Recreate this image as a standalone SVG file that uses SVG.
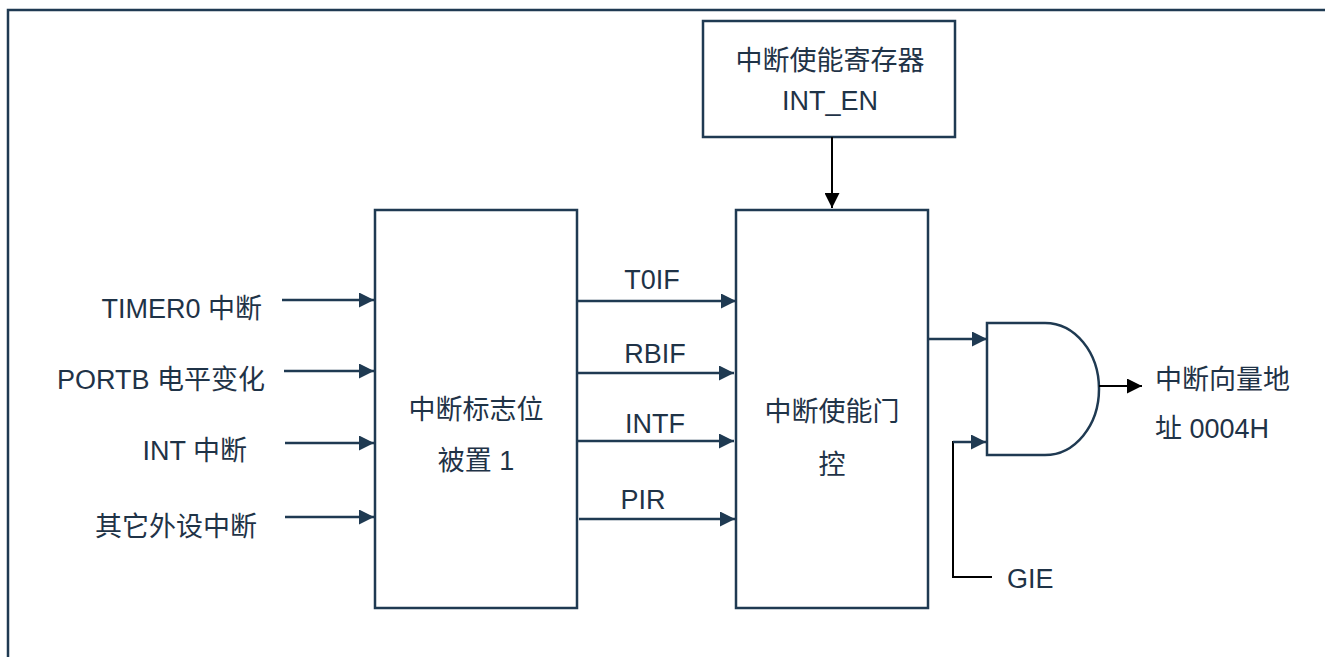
<svg xmlns="http://www.w3.org/2000/svg" width="1325" height="657" viewBox="0 0 1325 657">
<style>
.box{fill:#fff;stroke:#1f3a52;stroke-width:2.5}
.ln{fill:none;stroke:#1f3a52;stroke-width:2.5}
.blk{fill:none;stroke:#000;stroke-width:2}
.t{font-family:"Liberation Sans","Noto Sans CJK SC",sans-serif;font-size:27px;fill:#1f3347}
.c{text-anchor:middle}
.e{text-anchor:end}
</style>
<defs>
<marker id="an" markerUnits="userSpaceOnUse" markerWidth="16" markerHeight="15" refX="15" refY="7.5" orient="auto"><path d="M0,0 L15,7.5 L0,15 Z" fill="#1f3a52"/></marker>
<marker id="ab" markerUnits="userSpaceOnUse" markerWidth="16" markerHeight="15" refX="15" refY="7.5" orient="auto"><path d="M0,0 L15,7.5 L0,15 Z" fill="#000"/></marker>
</defs>
<rect x="0" y="0" width="1325" height="657" fill="#fff"/>
<rect x="8" y="10" width="1340" height="680" fill="none" stroke="#1f3a52" stroke-width="2.5"/>

<g id="int_en">
<rect class="box" x="703" y="21" width="252" height="116"/>
<text class="t c" x="830" y="70">中断使能寄存器</text>
<text class="t c" x="830" y="110">INT_EN</text>
</g>
<g id="flag">
<rect class="box" x="375" y="210" width="202" height="398"/>
<text class="t c" x="476" y="419">中断标志位</text>
<text class="t c" x="476" y="470">被置 1</text>
</g>
<g id="gate">
<rect class="box" x="736" y="210" width="192" height="398"/>
<text class="t c" x="832" y="421">中断使能门</text>
<text class="t c" x="832" y="474">控</text>
</g>
<g id="and">
<path class="ln" d="M987,323 H1045 A54,66 0 0 1 1045,455 H987 Z" fill="#fff"/>
</g>
<g id="labels">
<text class="t e" x="262" y="318">TIMER0 中断</text>
<text class="t e" x="265" y="389">PORTB 电平变化</text>
<text class="t e" x="247" y="460">INT 中断</text>
<text class="t e" x="257" y="536">其它外设中断</text>
<text class="t c" x="652" y="289">T0IF</text>
<text class="t c" x="655" y="363">RBIF</text>
<text class="t c" x="655" y="433">INTF</text>
<text class="t c" x="643" y="509">PIR</text>
<text class="t" x="1155" y="389">中断向量地</text>
<text class="t" x="1155" y="438">址 0004H</text>
<text class="t" x="1007" y="588">GIE</text>
</g>
<g id="connectors">
<line class="ln" x1="282" y1="300" x2="374" y2="300" marker-end="url(#an)"/>
<line class="ln" x1="284" y1="371" x2="374" y2="371" marker-end="url(#an)"/>
<line class="ln" x1="285" y1="443" x2="374" y2="443" marker-end="url(#an)"/>
<line class="ln" x1="285" y1="517" x2="374" y2="517" marker-end="url(#an)"/>
<line class="ln" x1="577" y1="301" x2="736" y2="301" marker-end="url(#an)"/>
<line class="ln" x1="577" y1="373" x2="734" y2="373" marker-end="url(#an)"/>
<line class="ln" x1="577" y1="441" x2="734" y2="441" marker-end="url(#an)"/>
<line class="ln" x1="579" y1="519" x2="735" y2="519" marker-end="url(#an)"/>
<line class="blk" x1="832" y1="137" x2="832" y2="208" marker-end="url(#ab)"/>
<line class="ln" x1="927" y1="339" x2="987" y2="339" marker-end="url(#an)"/>
<path class="blk" d="M992,577 H953 V442 H960"/>
<line class="ln" x1="953" y1="442" x2="986" y2="442" marker-end="url(#an)"/>
<line class="blk" x1="1099" y1="386" x2="1142" y2="386" marker-end="url(#ab)"/>
</g>
</svg>
